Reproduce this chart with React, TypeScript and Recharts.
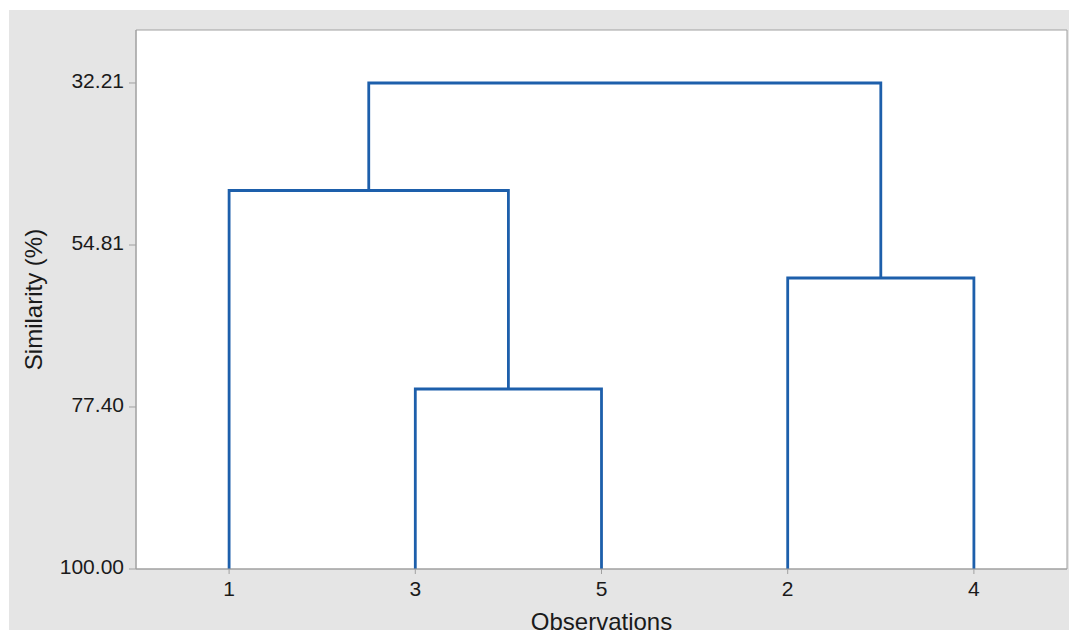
import React from 'react';
import {
  ComposedChart, Line, XAxis, YAxis, CartesianGrid, ReferenceArea,
} from 'recharts';

// ── Colores / estilo tipo Minitab ───────────────────────────────────────────
const LINK_COLOR = '#1d5fab';
const AXIS_COLOR = '#a0a0a0';
const PANEL_BG   = '#e5e5e5';
const FONT       = '"Liberation Sans", Arial, sans-serif';

// ── Datos del dendrograma ───────────────────────────────────────────────────
const observations = ['1', '3', '5', '2', '4'];          // orden de las hojas
const similarityTicks = [32.21, 54.81, 77.40, 100.0];
const similarityDomain = [24.82, 100];

// fusiones (C1..C4 en orden), similitud en %
const mergeLeft       = ['3', '2', '1', 'C3'];
const mergeRight      = ['5', '4', 'C1', 'C2'];
const mergeSimilarity = [74.89, 59.41, 47.21, 32.21];

interface Pt { x: number; y: number; }

// posición de cada nodo (hoja o cluster) -> { x, y }
const buildLinks = () => {
  const node: Record<string, Pt> = {};
  observations.forEach((o, i) => { node[o] = { x: i + 0.5, y: 100 }; });
  const links: Pt[][] = [];
  mergeSimilarity.forEach((s, i) => {
    const l = node[mergeLeft[i]];
    const r = node[mergeRight[i]];
    links.push([
      { x: l.x, y: l.y },
      { x: l.x, y: s },
      { x: r.x, y: s },
      { x: r.x, y: r.y },
    ]);
    node[`C${i + 1}`] = { x: (l.x + r.x) / 2, y: s };
  });
  return links;
};

const links = buildLinks();
const xTicks = observations.map((_, i) => i + 0.5);

const YLabel = (props: any) => {
  const vb = props.viewBox || {};
  const cx = vb.x + 33;
  const cy = vb.y + vb.height / 2;
  return (
    <text x={cx} y={cy} transform={`rotate(-90, ${cx}, ${cy})`} textAnchor="middle"
      fontFamily={FONT} fontSize={24} fill="#1a1a1a">
      Similarity (%)
    </text>
  );
};

const XLabel = (props: any) => {
  const vb = props.viewBox || {};
  return (
    <text x={vb.x + vb.width / 2} y={vb.y + 61} textAnchor="middle"
      fontFamily={FONT} fontSize={24} fill="#1a1a1a">
      Observations
    </text>
  );
};

export default function App() {
  return (
    <div style={{
      position: 'fixed', left: 9, top: 10, width: 1060, height: 620,
      background: PANEL_BG, overflow: 'hidden',
    }}>
      <ComposedChart
        width={1060}
        height={620}
        margin={{ top: 20, right: 2, bottom: 0, left: 0 }}
      >
        <CartesianGrid fill="#ffffff" horizontal={false} vertical={false} />
        <XAxis
          dataKey="x"
          type="number"
          domain={[0, observations.length]}
          ticks={xTicks}
          tickFormatter={(v: number) => observations[Math.round(v - 0.5)]}
          allowDataOverflow
          height={61}
          stroke={AXIS_COLOR}
          tickSize={5}
          tickMargin={7}
          tick={{ fontSize: 21, fill: '#1a1a1a', fontFamily: FONT }}
          label={<XLabel />}
        />
        <YAxis
          type="number"
          domain={similarityDomain}
          ticks={similarityTicks}
          reversed
          allowDataOverflow
          tickFormatter={(v: number) => v.toFixed(2)}
          width={127}
          stroke={AXIS_COLOR}
          tickSize={7}
          tickMargin={5}
          tick={{ fontSize: 21, fill: '#1a1a1a', fontFamily: FONT, dy: -2 }}
          label={<YLabel />}
        />
        <ReferenceArea
          x1={0}
          x2={observations.length}
          y1={similarityDomain[0]}
          y2={similarityDomain[1]}
          fill="none"
          stroke={AXIS_COLOR}
          strokeWidth={1}
        />
        {links.map((pts, i) => (
          <Line
            key={i}
            data={pts}
            dataKey="y"
            type="linear"
            stroke={LINK_COLOR}
            strokeWidth={2.8}
            strokeLinejoin="miter"
            dot={false}
            activeDot={false}
            isAnimationActive={false}
          />
        ))}
      </ComposedChart>
    </div>
  );
}
